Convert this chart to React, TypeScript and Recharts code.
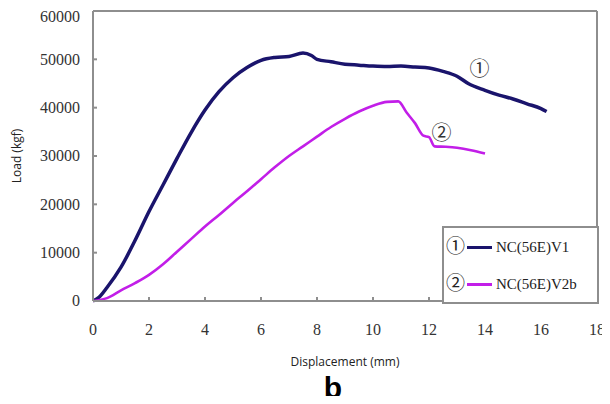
import React from 'react';
import {
  LineChart,
  Line,
  XAxis,
  YAxis,
  ReferenceLine,
  ReferenceDot,
  Label,
} from 'recharts';

// Specimen NC(56E)V1: displacement (mm) and load (kgf)
const disp1 = [0, 0.2, 0.5, 1.0, 1.5, 2.0, 2.5, 3.0, 3.5, 4.0, 4.5, 5.0, 5.5, 6.0, 6.5, 7.0, 7.5, 7.8, 8.0, 8.5, 9.0, 9.5, 10.0, 10.5, 11.0, 11.5, 12.0, 12.5, 13.0, 13.4, 14.0, 14.5, 15.0, 15.5, 16.0, 16.2];
const load1 = [0, 700, 2800, 7000, 12500, 18500, 24000, 29500, 34800, 39500, 43300, 46200, 48300, 49800, 50400, 50600, 51300, 50800, 50000, 49500, 49000, 48800, 48600, 48500, 48600, 48400, 48200, 47500, 46500, 45000, 43600, 42600, 41800, 40800, 39800, 39200];

// Specimen NC(56E)V2b
const disp2 = [0, 0.5, 1.0, 1.5, 2.0, 2.5, 3.0, 3.5, 4.0, 4.5, 5.0, 5.5, 6.0, 6.5, 7.0, 7.5, 8.0, 8.5, 9.0, 9.5, 10.0, 10.5, 10.9, 11.2, 11.5, 11.8, 12.0, 12.2, 12.6, 13.0, 13.5, 14.0];
const load2 = [0, 600, 2200, 3700, 5400, 7600, 10200, 12800, 15400, 17800, 20300, 22700, 25200, 27700, 30000, 32000, 34000, 36000, 37700, 39200, 40400, 41200, 41300, 39000, 36800, 34200, 33900, 32000, 31900, 31700, 31200, 30500];

const xTicks = [0, 2, 4, 6, 8, 10, 12, 14, 16, 18];
const yTicks = [0, 10000, 20000, 30000, 40000, 50000, 60000];

const seriesNames = ['NC(56E)V1', 'NC(56E)V2b'];
const seriesMarks = ['①', '②'];
const seriesColors = ['#1a146c', '#c21ee8'];

// curve tags: [displacement, load]
const tagPos = [
  [13.8, 48100],
  [12.45, 34700],
];

const data1 = disp1.map((d, i) => ({ d, load: load1[i] }));
const data2 = disp2.map((d, i) => ({ d, load: load2[i] }));

const frame = '#8e8e8e';
// circled digits are not in Liberation Serif, so fall back to the CJK face
const serif = '"Liberation Serif", "Noto Sans CJK JP", serif';
const sans = '"Open Sans", "Noto Sans", sans-serif';

const XTick = (props: any) => {
  const { x, y, payload } = props;
  return (
    <text x={x} y={y} dy="0.71em" textAnchor="middle" fill="#333" fontFamily="Liberation Serif" fontSize={16}>
      {String(payload.value)}
    </text>
  );
};

const YTick = (props: any) => {
  const { x, y, payload } = props;
  return (
    <text x={x} y={y} dy="0.34em" textAnchor="end" fill="#333" fontFamily="Liberation Serif" fontSize={16}>
      {String(payload.value)}
    </text>
  );
};

const App: React.FC = () => {
  return (
    <div style={{ position: 'relative', width: 602, height: 388, background: '#fff' }}>
      <LineChart width={602} height={388} margin={{ top: 3, right: 13, left: 0, bottom: 65 }}>
        <XAxis
          dataKey="d"
          type="number"
          domain={[0, 18]}
          ticks={xTicks}
          allowDuplicatedCategory={false}
          height={30}
          tickSize={-4}
          tickMargin={27}
          stroke={frame}
          strokeWidth={2}
          tick={XTick}
        >
          <Label
            value="Displacement (mm)"
            position="bottom"
            offset={26}
            style={{ fill: '#222', fontSize: 12, fontFamily: sans }}
          />
        </XAxis>
        <YAxis
          type="number"
          domain={[0, 60000]}
          ticks={yTicks}
          width={85}
          tickSize={-4}
          tickMargin={17}
          stroke={frame}
          strokeWidth={2}
          tick={YTick}
        >
          <Label
            value="Load (kgf)"
            angle={-90}
            position="insideLeft"
            offset={9}
            textAnchor="middle"
            style={{ fill: '#222', fontSize: 12, fontFamily: sans, textAnchor: 'middle' }}
          />
        </YAxis>
        <ReferenceLine y={60000} stroke={frame} strokeWidth={2} />
        <ReferenceLine x={18} stroke={frame} strokeWidth={2} />
        <Line
          data={data1}
          dataKey="load"
          type="monotone"
          stroke={seriesColors[0]}
          strokeWidth={3.5}
          dot={false}
          isAnimationActive={false}
        />
        <Line
          data={data2}
          dataKey="load"
          type="monotone"
          stroke={seriesColors[1]}
          strokeWidth={2.6}
          dot={false}
          isAnimationActive={false}
        />
        {tagPos.map((p, i) => (
          <ReferenceDot
            key={i}
            x={p[0]}
            y={p[1]}
            r={0}
            fill="none"
            stroke="none"
            label={{
              value: seriesMarks[i],
              position: 'center',
              fill: '#333',
              fontSize: 20,
              fontFamily: serif,
            }}
          />
        ))}
      </LineChart>

      <div
        style={{
          position: 'absolute',
          left: 434,
          top: 218,
          width: 153,
          height: 74,
          border: `2px solid ${frame}`,
          background: '#fff',
          fontFamily: serif,
          color: '#222',
        }}
      >
        {seriesNames.map((name, i) => (
          <div
            key={name}
            style={{
              position: 'absolute',
              left: 2,
              top: i === 0 ? 8 : 45,
              height: 22,
              display: 'flex',
              alignItems: 'center',
              whiteSpace: 'nowrap',
            }}
          >
            <span style={{ fontSize: 19, lineHeight: '22px', width: 20 }}>{seriesMarks[i]}</span>
            <span
              style={{
                display: 'inline-block',
                width: 25,
                height: 3,
                background: seriesColors[i],
                margin: '0 4px 0 1px',
              }}
            />
            <span style={{ fontSize: 15 }}>{name}</span>
          </div>
        ))}
      </div>

      <div
        style={{
          position: 'absolute',
          left: 325,
          top: 368,
          transform: 'translateX(-50%)',
          fontFamily: '"Liberation Sans", Arial, sans-serif',
          fontWeight: 'bold',
          fontSize: 30,
          lineHeight: '24px',
          color: '#000',
        }}
      >
        b
      </div>
    </div>
  );
};

export default App;
